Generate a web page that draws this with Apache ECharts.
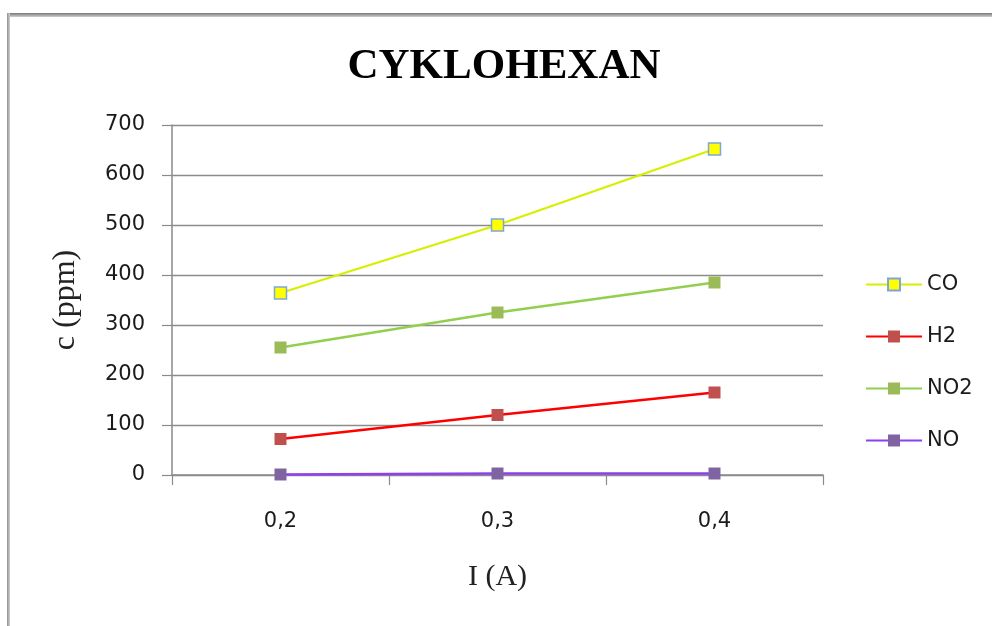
<!DOCTYPE html>
<html>
<head>
<meta charset="utf-8">
<script src="https://cdn.jsdelivr.net/npm/echarts@6/dist/echarts.min.js"></script>
<style>
  html, body { margin: 0; padding: 0; background: #ffffff; }
  #chart { width: 992px; height: 626px; }
</style>
</head>
<body>
<div id="chart"></div>
<script>
// Current I (A) on the category axis
const currents = ['0,2', '0,3', '0,4'];

// Measured concentrations c (ppm) per gas
const coValues  = [364, 500, 652];
const h2Values  = [72, 120, 165];
const no2Values = [255, 325, 385];
const noValues  = [1, 3, 3];

// Value axis range
const yMin = 0;
const yMax = 700;
const yStep = 100;

const tickFont = 'DejaVu Sans';
const serifFont = 'Liberation Serif';

function lineSeries(name, data, lineColor, markerColor, borderColor) {
  return {
    name: name,
    type: 'line',
    data: data,
    symbol: 'rect',
    symbolSize: 12,
    showAllSymbol: true,
    lineStyle: { color: lineColor, width: 2.3 },
    itemStyle: {
      color: markerColor,
      borderColor: borderColor || markerColor,
      borderWidth: borderColor ? 1.5 : 0
    },
    emphasis: { disabled: true },
    z: 3
  };
}

const chart = echarts.init(document.getElementById('chart'), null, { renderer: 'canvas' });

chart.setOption({
  animation: false,
  backgroundColor: '#ffffff',
  title: {
    text: 'CYKLOHEXAN',
    left: 504,
    top: 45,
    textAlign: 'center',
    padding: 0,
    textStyle: {
      fontFamily: serifFont,
      fontWeight: 'bold',
      fontSize: 43,
      color: '#000000'
    }
  },
  graphic: [
    {
      type: 'rect',
      shape: { x: 7, y: 13, width: 985, height: 4 },
      style: {
        fill: new echarts.graphic.LinearGradient(0, 0, 0, 1, [
          { offset: 0, color: '#777777' },
          { offset: 1, color: '#cfcfcf' }
        ])
      },
      silent: true
    },
    {
      type: 'rect',
      shape: { x: 7, y: 13, width: 3, height: 613 },
      style: {
        fill: new echarts.graphic.LinearGradient(0, 0, 1, 0, [
          { offset: 0, color: '#8f8f8f' },
          { offset: 1, color: '#d2d2d2' }
        ])
      },
      silent: true
    }
  ],
  legend: {
    orient: 'vertical',
    left: 865,
    top: 274,
    itemWidth: 56,
    itemHeight: 15,
    itemGap: 31,
    padding: 0,
    selectedMode: false,
    textStyle: {
      fontFamily: tickFont,
      fontSize: 21,
      lineHeight: 21,
      color: '#1a1a1a',
      padding: [0, 0, 0, 0]
    },
    data: ['CO', 'H2', 'NO2', 'NO']
  },
  grid: {
    left: 172,
    right: 169,
    top: 125,
    bottom: 151,
    containLabel: false
  },
  xAxis: {
    type: 'category',
    data: currents,
    boundaryGap: true,
    name: 'I (A)',
    nameLocation: 'middle',
    nameGap: 87,
    nameTextStyle: { fontFamily: serifFont, fontSize: 30, color: '#222222' },
    axisLine: { show: true, lineStyle: { color: '#8a8a8a', width: 1.5 } },
    axisTick: { show: true, length: 10, alignWithLabel: false, lineStyle: { color: '#8a8a8a', width: 1.2 } },
    axisLabel: { fontFamily: tickFont, fontSize: 21, color: '#1a1a1a', margin: 36 },
    splitLine: { show: false }
  },
  yAxis: {
    type: 'value',
    min: yMin,
    max: yMax,
    interval: yStep,
    name: 'c (ppm)',
    nameLocation: 'middle',
    nameGap: 90,
    nameTextStyle: { fontFamily: serifFont, fontSize: 32, color: '#222222' },
    axisLine: { show: true, lineStyle: { color: '#8a8a8a', width: 1.5 } },
    axisTick: { show: true, length: 10, lineStyle: { color: '#8a8a8a', width: 1.2 } },
    axisLabel: { fontFamily: tickFont, fontSize: 21, color: '#1a1a1a', margin: 27 },
    splitLine: { show: true, lineStyle: { color: '#8c8c8c', width: 1.4 } }
  },
  series: [
    lineSeries('CO', coValues, '#d6ef00', '#ffff00', '#7ea6d8'),
    lineSeries('H2', h2Values, '#ff0000', '#c0504d'),
    lineSeries('NO2', no2Values, '#92cf4f', '#9bbb59'),
    lineSeries('NO', noValues, '#8f3ff0', '#8064a2')
  ]
});
</script>
</body>
</html>
